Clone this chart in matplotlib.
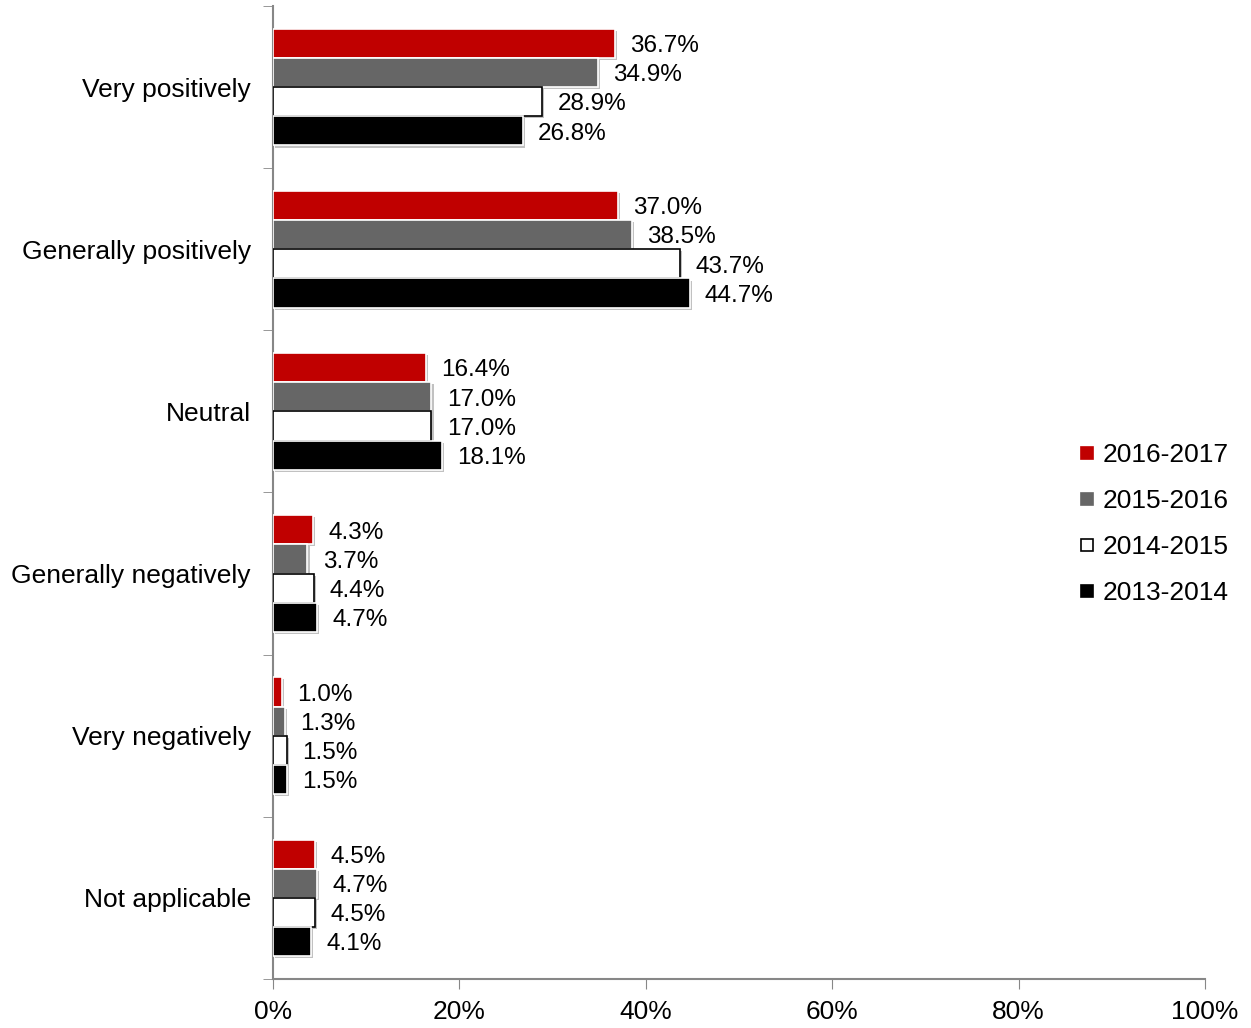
import matplotlib
matplotlib.use("Agg")
import matplotlib.pyplot as plt
import matplotlib.patheffects as pe
import numpy as np
from matplotlib.lines import Line2D

plt.rcParams['font.family'] = ['Liberation Sans', 'DejaVu Sans']

categories = ["Very positively", "Generally positively", "Neutral",
              "Generally negatively", "Very negatively", "Not applicable"]
series_names = ["2016-2017", "2015-2016", "2014-2015", "2013-2014"]
v_2016_2017 = [36.7, 37.0, 16.4, 4.3, 1.0, 4.5]
v_2015_2016 = [34.9, 38.5, 17.0, 3.7, 1.3, 4.7]
v_2014_2015 = [28.9, 43.7, 17.0, 4.4, 1.5, 4.5]
v_2013_2014 = [26.8, 44.7, 18.1, 4.7, 1.5, 4.1]
series_values = [v_2016_2017, v_2015_2016, v_2014_2015, v_2013_2014]
face_colors = ["#C00000", "#666666", "#FFFFFF", "#000000"]
edge_colors = ["#FFFFFF", "#FFFFFF", "#000000", "#FFFFFF"]
x_ticks = [0, 20, 40, 60, 80, 100]
x_tick_labels = ["0%", "20%", "40%", "60%", "80%", "100%"]

fig = plt.figure(figsize=(12.51, 10.28), dpi=100)
ax = fig.add_axes([273/1251, 1-979/1028, (1205-273)/1251, (979-6)/1028])

n = len(categories)
bar_h = 0.18
centers = np.arange(n)
shadow = [pe.SimplePatchShadow(offset=(1.5, -1.5), shadow_rgbFace='#999999', alpha=0.6), pe.Normal()]
for i, (name, vals) in enumerate(zip(series_names, series_values)):
    y = centers + (i - 1.5) * bar_h
    bars = ax.barh(y, vals, height=bar_h, color=face_colors[i], edgecolor=edge_colors[i],
                   linewidth=1.2, label=name, zorder=3)
    for b in bars:
        b.set_path_effects(shadow)
    for yy, v in zip(y, vals):
        ax.annotate(f"{v:.1f}%", xy=(v, yy), xytext=(11, -2), textcoords='offset points',
                    va='center', ha='left', fontsize=17.5, color='black')

ax.set_xlim(0, 100)
ax.set_ylim(n - 0.5, -0.5)
ax.set_xticks(x_ticks)
ax.set_xticklabels(x_tick_labels, fontsize=19)
ax.set_yticks(centers)
ax.set_yticklabels(categories, fontsize=19)
ax.tick_params(axis='y', which='major', length=0, pad=16)
ax.set_yticks(np.arange(-0.5, n, 1.0), minor=True)
ax.tick_params(axis='y', which='minor', length=7, color='#878787', direction='out')
ax.tick_params(axis='x', which='major', length=7, color='#878787', direction='out', pad=8)

for s in ['top', 'right']:
    ax.spines[s].set_visible(False)
for s in ['left', 'bottom']:
    ax.spines[s].set_color('#878787')
    ax.spines[s].set_linewidth(1.5)

handles = [Line2D([], [], marker='s', linestyle='none', markersize=9,
                  markerfacecolor=face_colors[i],
                  markeredgecolor=('#000000' if i == 2 else face_colors[i]),
                  markeredgewidth=1.2, label=series_names[i]) for i in range(4)]
leg = fig.legend(handles=handles, loc='center left', bbox_to_anchor=(1047/1251, 1-524/1028),
                 frameon=False, fontsize=19, handletextpad=0.0, labelspacing=0.83,
                 handlelength=1.2)

fig.savefig("out.png", dpi=100)
